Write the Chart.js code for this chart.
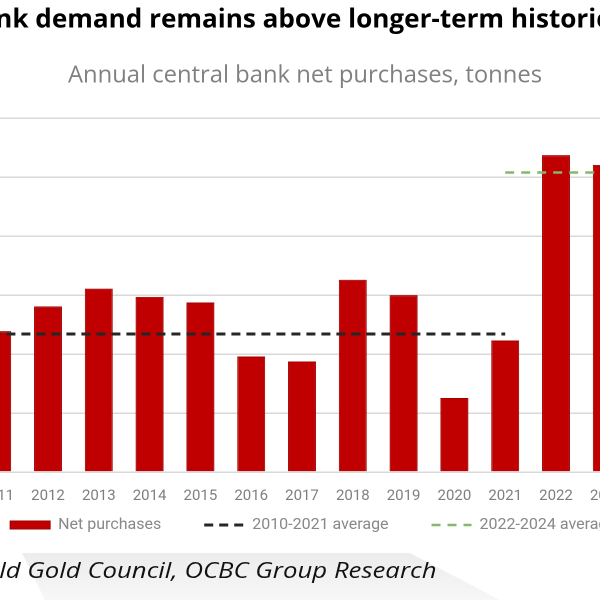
<!DOCTYPE html>
<html>
<head>
<meta charset="utf-8">
<script src="https://cdn.jsdelivr.net/npm/chart.js@4.4.1/dist/chart.umd.min.js"></script>
<style>
    html, body { margin: 0; padding: 0; width: 600px; height: 600px; overflow: hidden; background: #fff; }
    #wrap { position: absolute; left: -129px; top: 0; width: 884px; height: 589px; }
    #band {
        position: absolute; left: 0; top: 553px; width: 520px; height: 47px;
        background: linear-gradient(#ececec, #f7f7f7);
        clip-path: polygon(22px 0, 410px 0, 500px 47px, 45px 47px);
    }
    #source {
        position: absolute; right: 163px; top: 554px; white-space: nowrap;
        font-family: "Open Sans", sans-serif; font-style: italic; font-size: 22px; color: #111;
        transform: scaleX(1.17); transform-origin: right center;
    }
</style>
</head>
<body>
<div id="band"></div>
<div id="wrap"><canvas id="goldChart"></canvas></div>
<div id="source">Source: World Gold Council, OCBC Group Research</div>
<script>
// Данные (тонны)
const years = ['2010', '2011', '2012', '2013', '2014', '2015', '2016', '2017',
               '2018', '2019', '2020', '2021', '2022', '2023', '2024'];
const netPurchases = [79, 478, 562, 622, 594, 575, 392, 375, 652, 600, 251, 446, 1075, 1042, 931];
const avg2010to2021 = [468, 468, 468, 468, 468, 468, 468, 468, 468, 468, 468, 468, null, null, null];
const avg2022to2024 = [null, null, null, null, null, null, null, null, null, null, null, 1016, 1016, 1016, 1016];
const yTicks = [0, 200, 400, 600, 800, 1000, 1200];

const titleText = 'Central bank demand remains above longer-term historical average';
const subtitleText = 'Annual central bank net purchases, tonnes';

const tickFont = { family: 'Roboto', size: 15 };
const legendFont = { family: 'Roboto', size: 16 };

// Легенда ближе к подписям оси, заголовки чуть левее центра
const blockShift = {
    id: 'blockShift',
    afterLayout(chart) {
        chart.boxes.forEach(box => {
            if (box === chart.legend) {
                box.top -= 46;
                box.bottom -= 46;
            } else if (box.options && box.options.text === titleText) {
                box.left -= 11;
                box.right -= 11;
            } else if (box.options && box.options.text === subtitleText) {
                box.left -= 8;
                box.right -= 8;
            }
        });
    }
};

const ctx = document.getElementById('goldChart');
new Chart(ctx, {
    type: 'bar',
    data: {
        labels: years,
        datasets: [{
            label: 'Net purchases',
            data: netPurchases,
            backgroundColor: '#C00000',
            borderColor: '#A00000',
            borderWidth: 1,
            categoryPercentage: 1,
            barPercentage: 0.55,
            pointStyle: 'rect',
            order: 1
        }, {
            type: 'line',
            label: '2010-2021 average',
            data: avg2010to2021,
            borderColor: '#262626',
            borderWidth: 3,
            borderDash: [9, 6],
            pointRadius: 0,
            pointStyle: 'line',
            fill: false,
            order: 0
        }, {
            type: 'line',
            label: '2022-2024 average',
            data: avg2022to2024,
            borderColor: '#86B86A',
            borderWidth: 2.5,
            borderDash: [9, 7],
            pointRadius: 0,
            pointStyle: 'line',
            fill: false,
            order: 0
        }]
    },
    options: {
        responsive: true,
        maintainAspectRatio: false,
        animation: false,
        devicePixelRatio: 2,
        layout: { padding: 0 },
        scales: {
            x: {
                grid: { display: false, drawTicks: false },
                border: { display: false },
                ticks: { color: '#7f7f7f', font: tickFont, padding: 15 }
            },
            y: {
                min: 0,
                max: 1200,
                afterBuildTicks: function(scale) { scale.ticks = yTicks.map(v => ({ value: v })); },
                grid: { color: '#d9d9d9', lineWidth: 1.5, drawTicks: false },
                border: { display: false },
                ticks: { color: '#7f7f7f', font: tickFont },
                afterFit: function(scale) { scale.width = 50; }
            },
            yRight: {
                position: 'right',
                grid: { display: false },
                border: { display: false },
                ticks: { display: false },
                afterFit: function(scale) { scale.width = 72; }
            }
        },
        plugins: {
            title: {
                display: true,
                text: titleText,
                color: '#000',
                font: { family: 'Open Sans', size: 26.4, weight: 'bold' },
                padding: { top: 4, bottom: 0 }
            },
            subtitle: {
                display: true,
                text: subtitleText,
                color: '#808080',
                font: { family: 'Open Sans', size: 23.8 },
                padding: { top: 26, bottom: 28 }
            },
            legend: {
                position: 'bottom',
                labels: {
                    usePointStyle: true,
                    pointStyleWidth: 40,
                    boxHeight: 8,
                    padding: 43,
                    color: '#888888',
                    font: legendFont,
                    sort: (a, b) => a.datasetIndex - b.datasetIndex,
                    generateLabels: function(chart) {
                        const items = Chart.defaults.plugins.legend.labels.generateLabels(chart);
                        items.forEach(item => {
                            const ds = chart.data.datasets[item.datasetIndex];
                            if (ds.type === 'line') {
                                item.lineDash = ds.borderDash;
                                item.lineWidth = ds.borderWidth;
                                item.strokeStyle = ds.borderColor;
                            }
                        });
                        return items;
                    }
                }
            },
            tooltip: { enabled: false }
        }
    },
    plugins: [blockShift]
});
</script>
</body>
</html>
